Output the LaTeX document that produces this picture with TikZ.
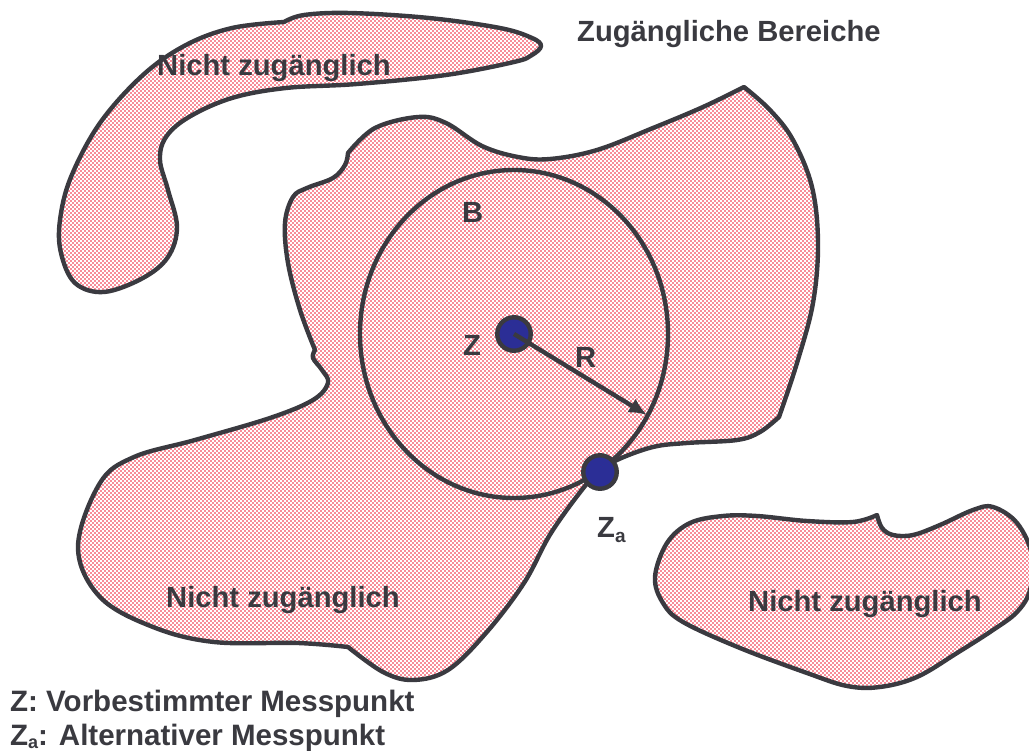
\documentclass[tikz,border=0pt]{standalone}
\usepackage{fontspec}
\setmainfont{Liberation Sans}
\usetikzlibrary{arrows.meta,shapes.geometric}
\definecolor{ink}{HTML}{3A3A40}
\definecolor{hatchpink}{HTML}{F88C98}
\definecolor{dotblue}{HTML}{2B2E96}
\tikzset{
  outline/.style={draw=ink,line width=4.4pt,line join=round},
  checkrow/.style={draw=hatchpink,line width=2pt,line cap=butt},
  txt/.style={font=\fontsize{29.2}{29.2}\selectfont\bfseries,text=ink,inner sep=0pt,anchor=base west},
  legendtxt/.style={txt,font=\fontsize{29.5}{29.5}\selectfont\bfseries},
  dot/.style={circle,draw=ink,fill=dotblue,line width=4.4pt,minimum size=33.5pt,inner sep=0pt},
  curvy/.style={smooth,tension=.6}
}
\newcommand{\subA}{\raisebox{-5pt}{\fontsize{19}{19}\selectfont a}}
\newcommand{\subB}{\raisebox{-3pt}{\fontsize{18}{18}\selectfont a}}
\begin{document}
\begin{tikzpicture}[x=1pt,y=-1pt]
\useasboundingbox (0,0) rectangle (1029,751);
\clip (0,0) rectangle (1029,751);
\def\topblob{(284,22) -- plot[curvy] coordinates {(284,22)(304,15)(350,13)(429,18)(500,28)(532,38)(541,46)(532,55)(514,62)(446,75)(357,84)(286,88)(232,98)(189,117)(166,137)(160,160)(168,190)(177,227)(168,257)(143,278)(104,292)(75,283)(61,253)(60,220)(71,177)(100,123)(143,75)(186,45)(232,28)(284,22)} -- cycle}
\def\mainregion{(744,87) -- plot[curvy] coordinates {(744,87)(770,110)(793,140)(812,187)(818,243)(813,303)(797,363)(779,417)}
 -- plot[curvy] coordinates {(779,417)(760,432)(737,440)(687,443)(653,447)(617,460)(600,472)(585,486)(551,533)(524,583)(486,633)(448,670)(413,680)(383,672)(348,647)}
 -- plot[curvy] coordinates {(348,647)(298,643)(214,642)(153,627)(100,597)(78,547)(100,483)(134,457)(195,440)(270,418)(313,400)(328,383)(322,370)(313,358)(315,350)}
 -- plot[curvy] coordinates {(315,350)(300,310)(288,263)(285,223)(293,197)(307,188)(333,178)(345,165)(348,153)}
 -- plot[curvy] coordinates {(348,153)(375,128)(418,117)(446,123)(482,146)(518,157)(550,159)(597,150)(653,128)(703,107)(744,87)} -- cycle}
\def\rightblob{(877,515) -- plot[curvy] coordinates {(877,515)(882,528)(893,535)(913,535)(940,525)(973,510)(993,507)(1017,523)(1032,555)(1030,590)(1017,612)(993,630)(957,653)(917,677)(880,687)(847,686)(807,673)(740,648)(683,622)(663,603)(655,577)(667,543)(690,523)(723,516)(757,516)(807,521)(853,522)(877,515)} -- cycle}
\begin{scope}
\clip \topblob \mainregion \rightblob;
\foreach \r in {11,15,...,691} {
  \path[checkrow,dash pattern=on 2pt off 2pt] (0,\r) -- (1029,\r);
}
\foreach \r in {13,17,...,691} {
  \path[checkrow,dash pattern=on 2pt off 2pt,dash phase=2pt] (0,\r) -- (1029,\r);
}
\end{scope}
\path[outline] \topblob;
\path[outline] \mainregion;
\path[outline] \rightblob;
\node[draw=ink,line width=4.4pt,ellipse,minimum width=308pt,minimum height=328pt,inner sep=0pt] (circB) at (514,334) {};
\coordinate (tip) at (647,415);
\node[dot] (Z) at (514,334) {};
\node[dot] (Za) at (600,472) {};
\draw[draw=ink,line width=4.4pt,-{Latex[length=18pt,width=16pt]}] (Z.center) -- (tip);
\node[txt] (l1) at (157,76) {Nicht zugänglich};
\node[txt] (l2) at (166,607) {Nicht zugänglich};
\node[txt] (l3) at (748,611) {Nicht zugänglich};
\node[txt] (l4) at (577,42) {Zugängliche Bereiche};
\node[txt] (lB) at (462,223) {B};
\node[txt] (lZ) at (463,356) {Z};
\node[txt] (lR) at (575,368) {R};
\node[txt] (lZa) at (597,537) {Z\subA};
\node[legendtxt] (lg1) at (10,711) {Z: Vorbestimmter Messpunkt};
\node[legendtxt] (lg2) at (10,745) {Z\subB: Alternativer Messpunkt};
\end{tikzpicture}
\end{document}
